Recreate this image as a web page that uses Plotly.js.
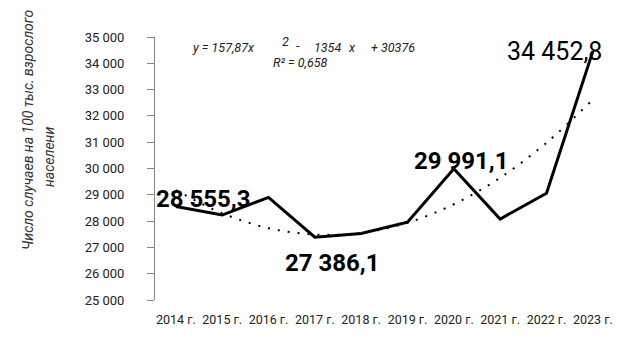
<!DOCTYPE html>
<html>
<head>
<meta charset="utf-8">
<script src="https://cdn.plot.ly/plotly-3.0.1.min.js"></script>
<style>html,body{margin:0;padding:0;background:#fff;}#chart{width:624px;height:337px;}</style>
</head>
<body>
<div id="chart"></div>
<script>
// ---- data ----
const years = ['2014 г.', '2015 г.', '2016 г.', '2017 г.', '2018 г.', '2019 г.', '2020 г.', '2021 г.', '2022 г.', '2023 г.'];
const cases = [28555.3, 28230, 28900, 27386.1, 27530, 27960, 29991.1, 28080, 29060, 34452.8];
const trend = [29180, 28300, 27730, 27490, 27550, 27940, 28640, 29650, 30980, 32620];
const yTitleLine1 = 'Число случаев на 100 тыс. взрослого';
const yTitleLine2 = 'населени';
const eqParts = ['y = 157,87x', '2', '-', '1354', 'x', '+ 30376'];
const r2Text = 'R² = 0,658';
const labeledIdx = [0, 3, 6, 9];

function fmt(v) {
  const s = v.toFixed(1).split('.');
  const int = s[0].replace(/\B(?=(\d{3})+(?!\d))/g, ' ');
  return int + ',' + s[1];
}

const FONT = 'Roboto, "Open Sans", sans-serif';

const traces = [
  {
    x: years, y: trend, type: 'scatter', mode: 'lines',
    line: {color: '#000', width: 2, dash: '2px,8px', shape: 'spline'},
    hoverinfo: 'skip', cliponaxis: false
  },
  {
    x: years, y: cases, type: 'scatter', mode: 'lines',
    line: {color: '#000', width: 3},
    cliponaxis: false
  }
];

const labelStyle = [
  {xs: 28, ys: 8, bold: true, size: 24},
  {xs: 18, ys: -26, bold: true, size: 24},
  {xs: 8, ys: 8, bold: true, size: 24},
  {xs: -38, ys: 0, bold: false, size: 25}
];

const annotations = labeledIdx.map((i, k) => ({
  x: years[i], y: cases[i], xref: 'x', yref: 'y',
  text: labelStyle[k].bold ? '<b>' + fmt(cases[i]) + '</b>' : fmt(cases[i]),
  showarrow: false, xshift: labelStyle[k].xs, yshift: labelStyle[k].ys,
  font: {family: FONT, size: labelStyle[k].size, color: '#000'}
}));

// y axis title (two rotated lines)
annotations.push({
  xref: 'paper', yref: 'paper', x: (28 - 155) / 461, y: (300 - 130) / 263,
  text: '<i>' + yTitleLine1 + '</i>', textangle: -90, showarrow: false,
  xanchor: 'center', yanchor: 'middle', borderpad: 0,
  font: {family: FONT, size: 14, color: '#333'}
});
annotations.push({
  xref: 'paper', yref: 'paper', x: (49 - 155) / 461, y: (300 - 157) / 263,
  text: '<i>' + yTitleLine2 + '</i>', textangle: -90, showarrow: false,
  xanchor: 'center', yanchor: 'middle', borderpad: 0,
  font: {family: FONT, size: 14, color: '#333'}
});

// equation
const eqPos = [
  {px: 191, py: 47, anchor: 'left'},
  {px: 281, py: 41, anchor: 'left'},
  {px: 298, py: 45, anchor: 'center'},
  {px: 313, py: 47, anchor: 'left'},
  {px: 352, py: 47, anchor: 'center'},
  {px: 370, py: 47, anchor: 'left'}
];
eqParts.forEach((t, k) => {
  annotations.push({
    xref: 'paper', yref: 'paper',
    x: (eqPos[k].px - 155) / 461, y: (300 - eqPos[k].py) / 263,
    xanchor: eqPos[k].anchor, yanchor: 'middle', borderpad: 0,
    text: '<i>' + t + '</i>', showarrow: false,
    font: {family: FONT, size: 12.5, color: '#222'}
  });
});
annotations.push({
  xref: 'paper', yref: 'paper', x: (272 - 155) / 461, y: (300 - 62) / 263,
  xanchor: 'left', yanchor: 'middle', borderpad: 0,
  text: '<i>' + r2Text + '</i>', showarrow: false,
  font: {family: FONT, size: 12.5, color: '#222'}
});

const layout = {
  width: 624, height: 337,
  margin: {l: 155, r: 8, t: 37, b: 37},
  paper_bgcolor: '#fff', plot_bgcolor: '#fff',
  showlegend: false,
  separators: ', ',
  font: {family: FONT, color: '#333'},
  xaxis: {
    type: 'category', range: [-0.45, 9.5],
    showline: false, showgrid: false, zeroline: false, ticks: '',
    tickfont: {family: FONT, size: 12.5, color: '#222'},
    ticklabelstandoff: 10, fixedrange: true
  },
  yaxis: {
    range: [25000, 35000], dtick: 1000, tick0: 25000,
    tickformat: ',d',
    showline: true, linecolor: '#868686', linewidth: 1,
    showgrid: false, zeroline: false,
    ticks: 'outside', ticklen: 7, tickcolor: '#868686', tickwidth: 1,
    tickfont: {family: FONT, size: 13, color: '#222'},
    ticklabelstandoff: 20, fixedrange: true
  },
  annotations: annotations
};

Plotly.newPlot('chart', traces, layout, {staticPlot: true, displayModeBar: false});
</script>
</body>
</html>
